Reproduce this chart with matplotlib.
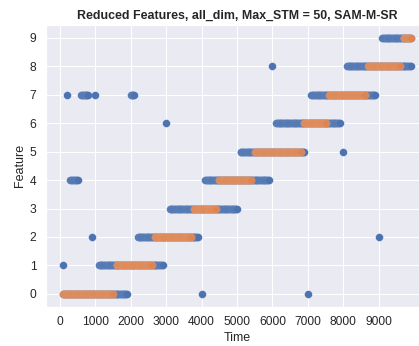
import numpy as np
import matplotlib
matplotlib.use("Agg")
import matplotlib.pyplot as plt
import seaborn as sns

sns.set_theme(style="darkgrid")
plt.rcParams['font.family'] = ['Liberation Sans', 'DejaVu Sans']

# runs of selected features over time (all features, blue)
all_feature = [0, 1, 2, 3, 4, 5, 6, 7, 8, 9,
               1, 7, 4, 7, 2, 7, 7, 6, 0, 8, 0, 5, 2]
all_start = [100, 1100, 2200, 3100, 4100, 5100, 6100, 7100, 8100, 9100,
             100, 200, 300, 600, 900, 1000, 2000, 3000, 4000, 6000, 7000, 8000, 9000]
all_end = [1900, 2900, 3900, 5000, 5900, 6900, 7900, 8900, 9900, 9900,
           100, 200, 500, 800, 900, 1000, 2100, 3000, 4000, 6000, 7000, 8000, 9000]

# runs of the reduced feature set (orange)
red_feature = [0, 1, 2, 3, 4, 5, 6, 7, 8, 9]
red_start = [100, 1600, 2700, 3800, 4500, 5500, 6900, 7600, 8700, 9700]
red_end = [1500, 2600, 3700, 4400, 5400, 6800, 7500, 8600, 9600, 9900]

STEP = 25


def expand(feats, starts, ends):
    t, f = [], []
    for k, s, e in zip(feats, starts, ends):
        ts = np.arange(s, e + 1, STEP)
        t.append(ts)
        f.append(np.full(len(ts), k))
    return np.concatenate(t), np.concatenate(f)


W, H = 419, 346
fig = plt.figure(figsize=(W / 72, H / 72), dpi=72)
ax = fig.add_axes([46 / W, (H - 306.7) / H, 382 / W, 281.7 / H])

t_all, f_all = expand(all_feature, all_start, all_end)
t_red, f_red = expand(red_feature, red_start, red_end)
ax.scatter(t_all, f_all, s=56, color='#4C72B0', edgecolor='#8fa8d0', linewidth=0.15)
ax.scatter(t_red, f_red, s=56, color='#DD8452', edgecolor='#eab391', linewidth=0.15)

ax.set_yticks(range(10))
ax.set_xticks(range(0, 10000, 1000))
ax.tick_params(labelsize=12)
ax.set_xlabel('Time', fontsize=12.5)
ax.set_ylabel('Feature', fontsize=12.5)
ax.set_title('Reduced Features, all_dim, Max_STM = 50, SAM-M-SR', fontsize=12.4, fontweight='bold')

fig.savefig('out.png', dpi=72)
